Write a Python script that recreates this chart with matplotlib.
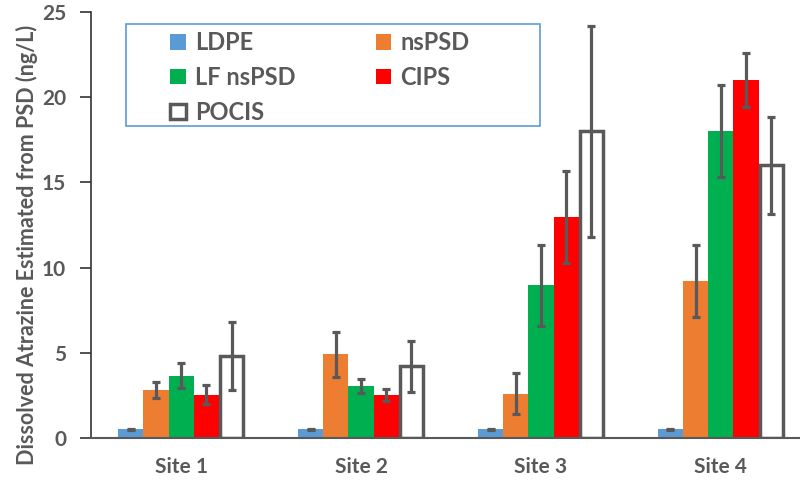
import numpy as np
import matplotlib
matplotlib.use("Agg")
import matplotlib.pyplot as plt
from matplotlib.patches import Rectangle

sites = ["Site 1", "Site 2", "Site 3", "Site 4"]
samplers = ["LDPE", "nsPSD", "LF nsPSD", "CIPS", "POCIS"]

ldpe = [0.5, 0.5, 0.5, 0.5]
nspsd = [2.8, 4.9, 2.6, 9.2]
lf_nspsd = [3.65, 3.05, 8.95, 18.0]
cips = [2.55, 2.5, 12.95, 21.0]
pocis = [4.8, 4.2, 18.0, 16.0]

ldpe_err = [0.05, 0.05, 0.05, 0.05]
nspsd_err = [0.48, 1.3, 1.2, 2.1]
lf_nspsd_err = [0.74, 0.41, 2.4, 2.7]
cips_err = [0.55, 0.35, 2.7, 1.6]
pocis_err = [2.0, 1.5, 6.2, 2.85]

colors = ["#5b9bd5", "#ed7d31", "#00b050", "#ff0000", "white"]
gray = "#595959"

plt.rcParams["font.family"] = ["Lato", "DejaVu Sans"]
plt.rcParams["font.weight"] = "bold"

fig = plt.figure(figsize=(8, 4.82), dpi=100)
ax = fig.add_axes([0.114, 0.0913, 0.886, 0.884])

x = np.arange(len(sites))
w = 0.14
series = [ldpe, nspsd, lf_nspsd, cips, pocis]
errs = [ldpe_err, nspsd_err, lf_nspsd_err, cips_err, pocis_err]
handles = []
for i, (vals, err) in enumerate(zip(series, errs)):
    pos = x + (i - 2) * w
    if samplers[i] == "POCIS":
        b = ax.bar(pos, vals, w * 0.92, color="white", edgecolor=gray, linewidth=2.5, label=samplers[i], zorder=2)
    else:
        b = ax.bar(pos, vals, w, color=colors[i], linewidth=0, label=samplers[i], zorder=2)
    ax.errorbar(pos, vals, yerr=err, fmt="none", ecolor=gray, elinewidth=2.3,
                capsize=2.8, capthick=2.3, zorder=3)
    handles.append(b)

ax.set_xlim(-0.5, 3.44)
ax.set_ylim(0, 25)
ax.set_yticks([0, 5, 10, 15, 20, 25])
ax.set_xticks(x)
ax.set_xticklabels(sites, fontweight="bold")
ax.set_yticklabels([0, 5, 10, 15, 20, 25], fontweight="bold")
ax.tick_params(axis="x", length=0, pad=14, labelsize=15, labelcolor=gray)
ax.tick_params(axis="y", length=8, width=1.2, color="#333333", labelsize=15, labelcolor=gray, pad=10)
for s in ["top", "right"]:
    ax.spines[s].set_visible(False)
ax.spines["left"].set_color("#333333")
ax.spines["left"].set_linewidth(1.2)
ax.spines["bottom"].set_color(gray)
ax.spines["bottom"].set_linewidth(1.5)

ax.set_ylabel("Dissolved Atrazine Estimated from PSD (ng/L)", fontsize=15.5,
              fontweight="bold", color=gray)
ax.yaxis.set_label_coords(-0.075, 0.454)

# legend frame drawn separately so the inner padding can be wide
ax.add_patch(Rectangle((0.0494, 0.7324), 0.5841, 0.2394, transform=ax.transAxes,
                       facecolor="white", edgecolor="#5b9bd5", linewidth=1.2, zorder=4))
order = [0, 2, 4, 1, 3]
leg = ax.legend([handles[k] for k in order], [samplers[k] for k in order], ncol=2,
                loc="upper left", bbox_to_anchor=(0.1115, 0.955), frameon=False,
                prop={"size": 17, "weight": "bold"},
                handlelength=0.65, handleheight=0.65, handletextpad=0.4,
                columnspacing=3.4, labelspacing=0.5, borderpad=0, borderaxespad=0)
leg.set_zorder(5)
for t in leg.get_texts():
    t.set_color(gray)

fig.savefig("out.png", dpi=100)
